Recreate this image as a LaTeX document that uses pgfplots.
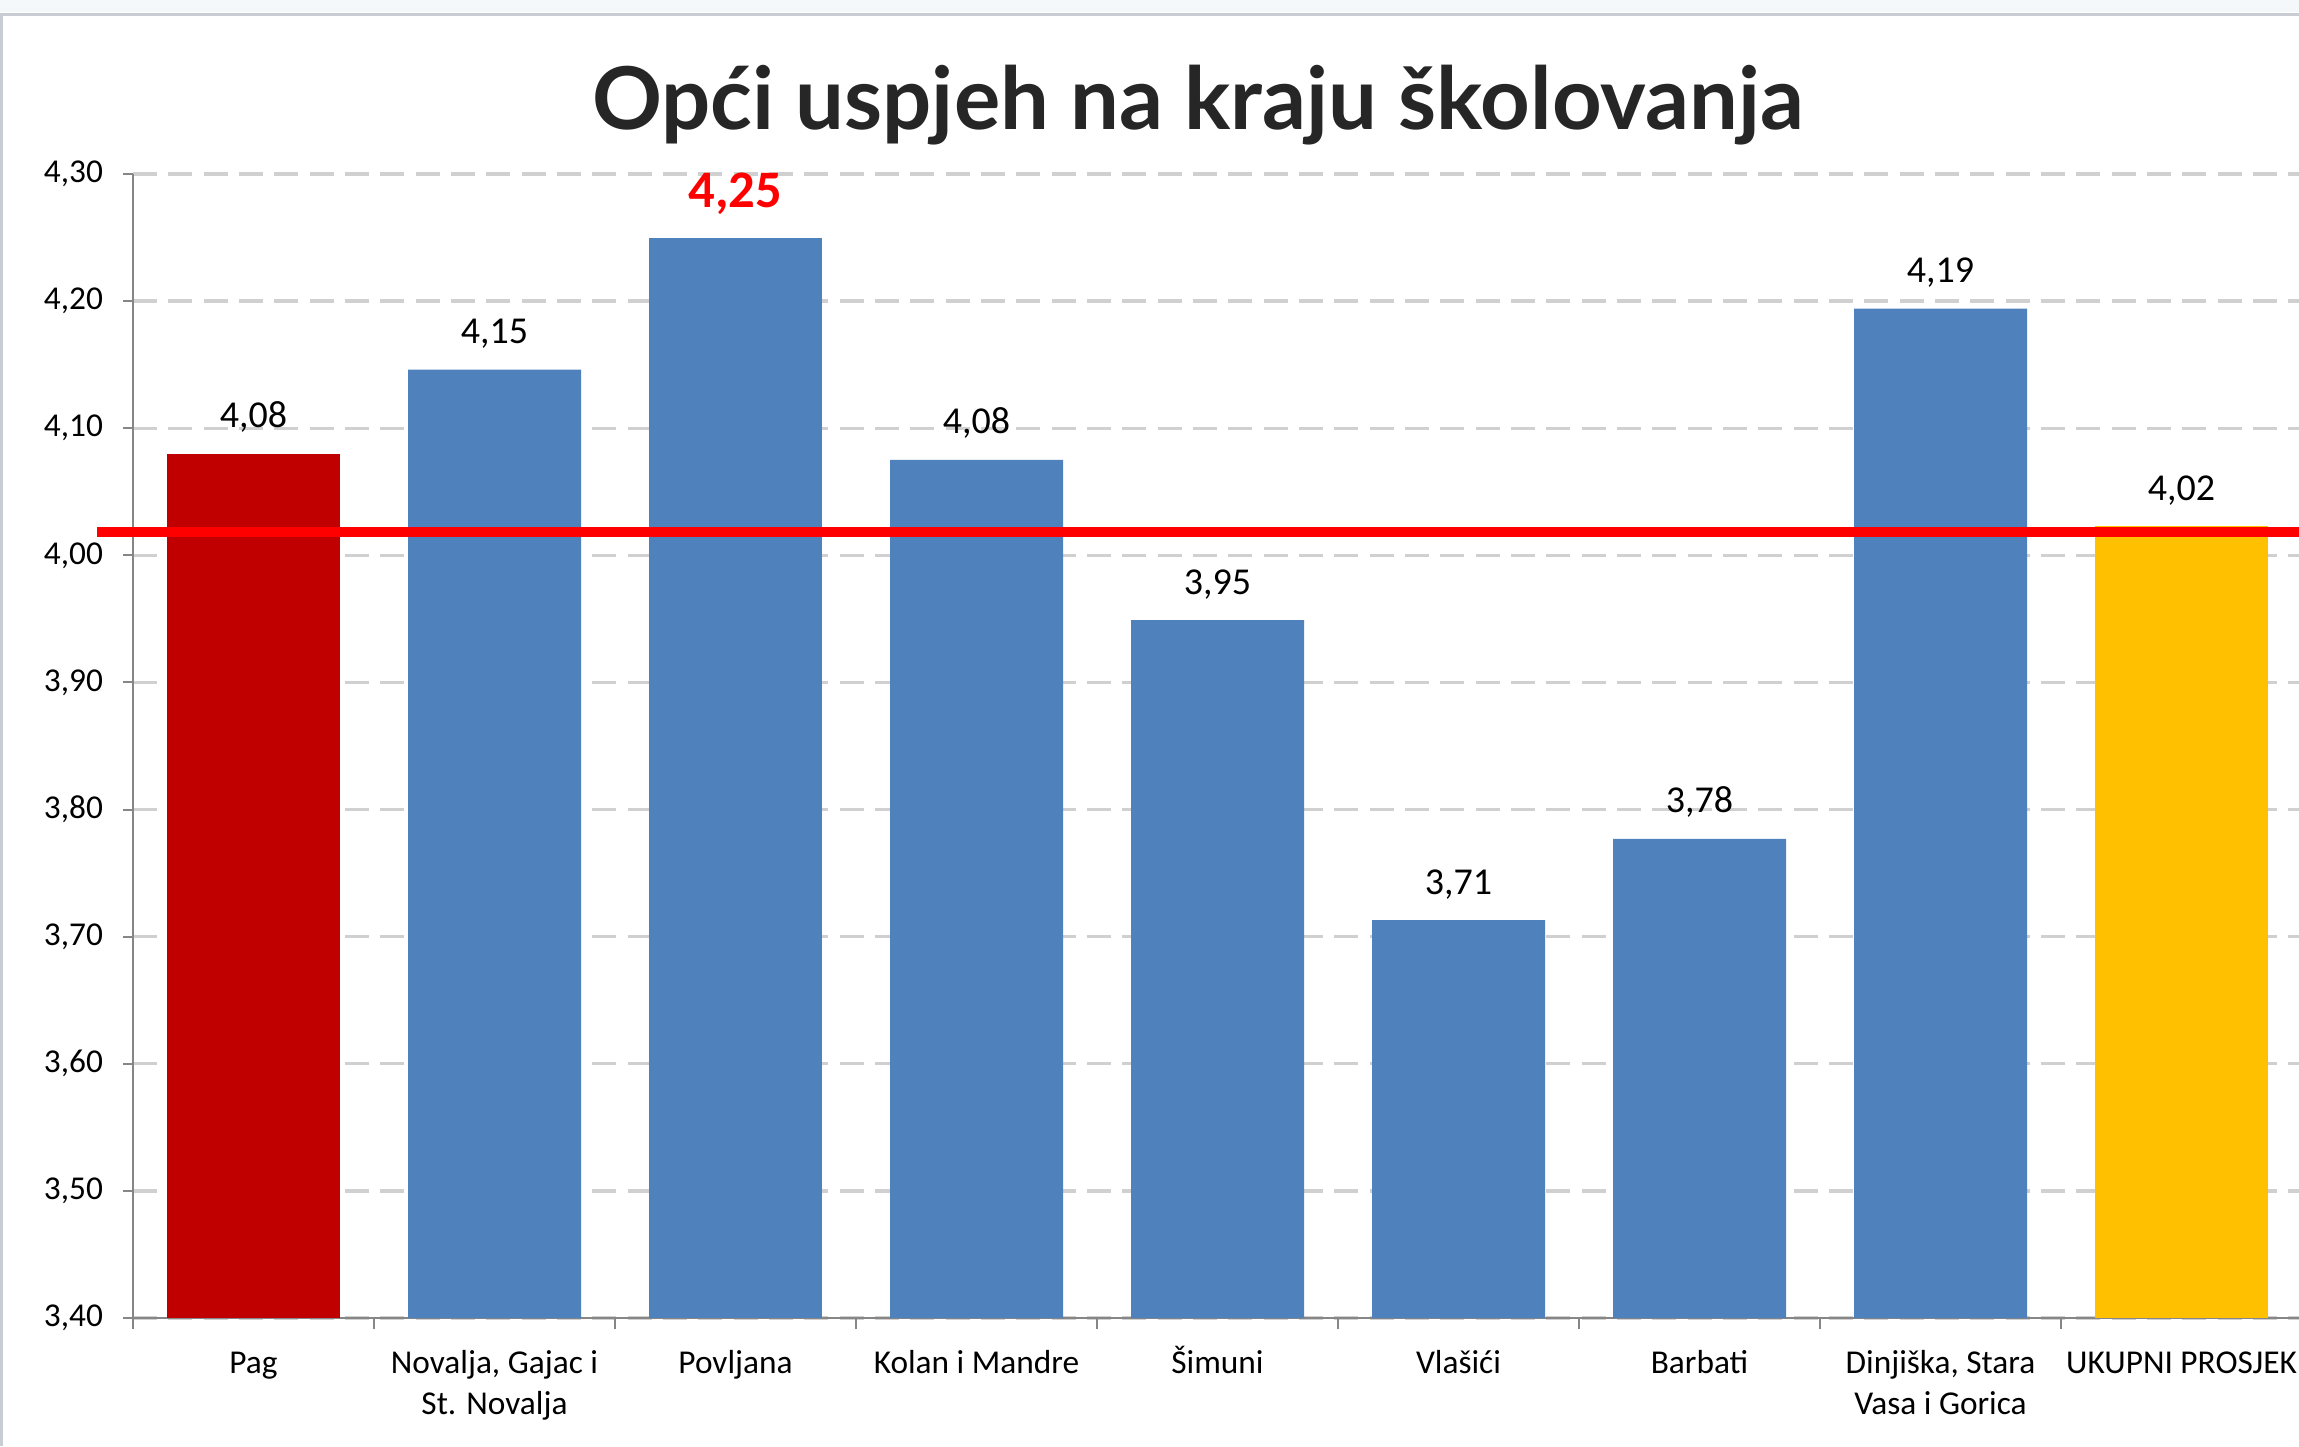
\documentclass[border=0pt]{standalone}
\usepackage{fontspec}
\setmainfont{Carlito}
\newfontfamily\titlefont{Lato}
\usepackage{pgfplots}
\pgfplotsset{compat=1.18}

\definecolor{barblue}{HTML}{4F81BD}
\definecolor{barred}{HTML}{C00000}
\definecolor{baryellow}{HTML}{FFC000}
\definecolor{gridgray}{HTML}{D0D0D0}
\definecolor{axisgray}{HTML}{868686}
\definecolor{titlecol}{HTML}{262626}
\definecolor{topband}{HTML}{F4F8FB}
\definecolor{framegray}{HTML}{C8CDD3}

% two-line category label, baseline on the first line
\newcommand{\twoline}[2]{\begin{tabular}[t]{@{}c@{}}#1\\#2\end{tabular}}

% 1 px of the reference = 0.3pt
\begin{document}
\begin{tikzpicture}
\path[use as bounding box] (0,0) rectangle (689.7pt,433.8pt);
\fill[topband] (0,430.2pt) rectangle (689.7pt,433.8pt);
\draw[framegray, line width=1pt] (0.5pt,0) -- (0.5pt,429.5pt) -- (689.7pt,429.5pt);

\node[anchor=base, text=titlecol, font=\titlefont\bfseries\fontsize{26}{26}\selectfont]
  at (359.4pt,394.8pt) {Opći uspjeh na kraju školovanja};

\begin{axis}[
    at={(39.9pt,38.4pt)}, anchor=south west,
    scale only axis, width=650.7pt, height=343.2pt,
    xmin=-0.5, xmax=8.5, ymin=3.4, ymax=4.3,
    ybar, bar width=51.9pt, bar shift=0pt,
    clip=false,
    axis x line=bottom, axis y line=left,
    axis line style={-, draw=axisgray, line width=0.6pt},
    xtick={0,1,2,3,4,5,6,7,8},
    xticklabels={Pag, {\twoline{Novalja, Gajac i}{St. Novalja}}, Povljana, Kolan i Mandre,
                 Šimuni, Vlašići, Barbati, {\twoline{Dinjiška, Stara}{Vasa i Gorica}}, UKUPNI PROSJEK},
    major x tick style={draw=none},
    minor xtick={-0.5,0.5,1.5,2.5,3.5,4.5,5.5,6.5,7.5,8.5},
    ytick={3.4,3.5,3.6,3.7,3.8,3.9,4.0,4.1,4.2,4.3},
    tick align=outside, major tick length=3pt, minor tick length=3.3pt,
    tick style={draw=axisgray, line width=0.6pt},
    ymajorgrids,
    major grid style={draw=gridgray, line width=1pt, dash pattern=on 7.2pt off 3.4pt},
    /pgf/number format/assume math mode=true,
    yticklabel style={font=\fontsize{10}{10}\selectfont, xshift=-2.5pt,
        /pgf/number format/fixed, /pgf/number format/fixed zerofill,
        /pgf/number format/precision=2, /pgf/number format/use comma},
    xticklabel style={font=\fontsize{10}{12.3}\selectfont, anchor=base, yshift=-13.6pt},
    every node near coord/.append style={font=\fontsize{11.4}{12}\selectfont, anchor=base, yshift=7.8pt},
]
% Pag
\addplot[fill=barred, draw=none, nodes near coords, point meta=explicit symbolic]
  coordinates {(0,4.080) [4,08]};
% ostala mjesta
\addplot[fill=barblue, draw=none, nodes near coords, point meta=explicit symbolic]
  coordinates {(1,4.146) [4,15] (3,4.075) [4,08] (4,3.949) [3,95]
               (5,3.713) [3,71] (6,3.777) [3,78] (7,4.194) [4,19]};
% Povljana - najbolji rezultat
\addplot[fill=barblue, draw=none, nodes near coords, point meta=explicit symbolic,
  every node near coord/.append style={font=\bfseries\fontsize{15.8}{16}\selectfont, text=red, yshift=1.2pt}]
  coordinates {(2,4.250) [4,25]};
% ukupni prosjek
\addplot[fill=baryellow, draw=none, nodes near coords, point meta=explicit symbolic]
  coordinates {(8,4.023) [4,02]};
% linija prosjeka
\addplot[sharp plot, draw=red, line width=3pt, forget plot]
  coordinates {(-0.65,4.018) (9.1,4.018)};
\end{axis}
\end{tikzpicture}
\end{document}
